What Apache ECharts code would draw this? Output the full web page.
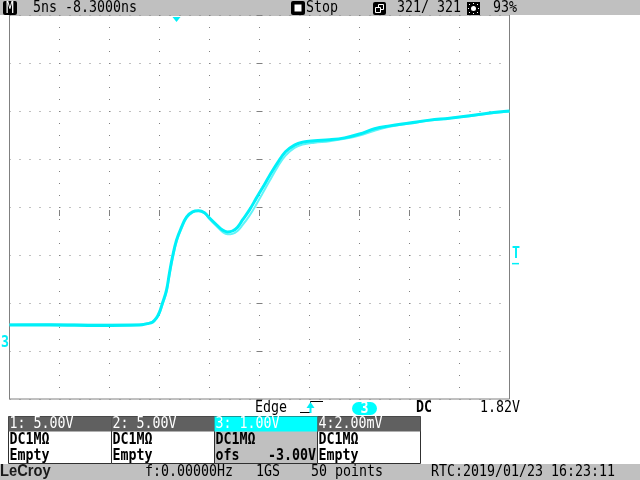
<!DOCTYPE html>
<html><head><meta charset="utf-8">
<script src="https://cdn.jsdelivr.net/npm/echarts@6/dist/echarts.min.js"></script>
<style>html,body{margin:0;padding:0;background:#fff}#c{width:640px;height:480px}</style>
</head><body><div id="c"></div>
<script>
// time from left edge of screen (ns), 5 ns/div, 10 divisions
const timeNs = [0,4,9,13,13.8,14.3,14.7,15,15.3,15.7,16,16.3,16.7,17.2,17.7,18.3,18.9,19.5,20,20.7,21.3,21.8,22.3,22.8,23.3,24,24.7,25.3,26,26.8,27.6,28.5,29.3,30.5,32,33.5,35,36.5,38,40,42,44,46,48,50];
// channel 3 volts, two persisted sweeps
const sweepA = [0.54,0.54,0.53,0.54,0.57,0.60,0.69,0.81,1.00,1.27,1.63,1.96,2.31,2.58,2.79,2.90,2.92,2.88,2.77,2.63,2.52,2.48,2.50,2.58,2.73,2.94,3.19,3.40,3.65,3.92,4.15,4.29,4.35,4.38,4.40,4.44,4.52,4.63,4.69,4.75,4.81,4.85,4.90,4.96,5.00];
const sweepB = [0.55,0.56,0.55,0.55,0.58,0.61,0.68,0.79,0.97,1.23,1.58,1.92,2.27,2.55,2.77,2.89,2.92,2.87,2.75,2.60,2.48,2.43,2.44,2.50,2.62,2.82,3.06,3.28,3.54,3.83,4.07,4.23,4.30,4.34,4.37,4.42,4.49,4.59,4.67,4.74,4.80,4.85,4.89,4.95,4.99];
const timePerDiv = 5, delayNs = -8.3, voltsPerDiv = 1, offsetV = -3, trigLevel = 1.82;
const headerTimebase = '5ns -8.3000ns';
const headerStop = 'Stop';
const headerSweeps = '321/ 321';
const headerBright = '93%';
const chanHeaders = ['1: 5.00V','2: 5.00V','3: 1.00V','4:2.00mV'];
const chanRow1 = ['DC1MΩ','DC1MΩ','DC1MΩ','DC1MΩ'];
const chanRow2 = ['Empty','Empty','ofs','Empty'];
const footer = {freq:'f:0.00000Hz', rate:'1GS', pts:'50 points', rtc:'RTC:2019/01/23 16:23:11'};

const FONT = '"DejaVu Sans Mono"';
const CY = '#00f0f8';
const xMin = 0, xMax = 10*timePerDiv;
const yMin = -offsetV - 4*voltsPerDiv, yMax = -offsetV + 4*voltsPerDiv;
const G = {left: 9.5, top: 15, width: 500, height: 384};

function txt(x, y, s, opt) {
  opt = opt || {};
  return {type:'text', x:x, y:y, scaleY: opt.sy || 1.25, z: 100,
    style:{text:s, x:0, y:0, fill: opt.fill || '#000', align: opt.align || 'left', verticalAlign:'middle',
      font: (opt.bold ? 'bold ' : '') + (opt.size || 13.3) + 'px ' + FONT}};
}

const chart = echarts.init(document.getElementById('c'), null, {renderer:'canvas'});
const pairsA = timeNs.map((t,i)=>[t, sweepA[i]]);
const pairsB = timeNs.map((t,i)=>[t, sweepB[i]]);
const axisCommon = {type:'value', axisLabel:{show:false}, axisLine:{show:false}};
chart.setOption({
  animation:false,
  backgroundColor:'#fff',
  grid:{left:G.left, top:G.top, width:G.width, height:G.height, show:true, borderColor:'#808080', borderWidth:1, backgroundColor:'transparent'},
  xAxis:[
    Object.assign({}, axisCommon, {min:xMin, max:xMax, interval:timePerDiv, axisTick:{show:false},
      splitLine:{show:true, lineStyle:{color:'#808080', width:1, type:[1,11]}}}),
    Object.assign({}, axisCommon, {min:xMin, max:xMax, interval:timePerDiv, position:'bottom', offset:-195,
      axisTick:{show:true, length:6, inside:false, lineStyle:{color:'#808080'}}, splitLine:{show:false}})
  ],
  yAxis:[
    Object.assign({}, axisCommon, {min:yMin, max:yMax, interval:voltsPerDiv, axisTick:{show:false},
      splitLine:{show:true, lineStyle:{color:'#808080', width:1, type:[1,9]}}}),
    Object.assign({}, axisCommon, {min:yMin, max:yMax, interval:voltsPerDiv, position:'left', offset:-253,
      axisTick:{show:true, length:6, inside:false, lineStyle:{color:'#808080'}}, splitLine:{show:false}})
  ],
  series:[
    {type:'line', data:pairsB, smooth:0.4, symbol:'none', lineStyle:{color:'#60f4f8', width:2}, z:3},
    {type:'line', data:pairsA, smooth:0.4, symbol:'none', lineStyle:{color:CY, width:3}, z:4}
  ]
});

const trigX = chart.convertToPixel({xAxisIndex:0}, 25 + delayNs);
const trigY = chart.convertToPixel({yAxisIndex:0}, trigLevel);
const gndY = chart.convertToPixel({yAxisIndex:0}, 0);

const g = [];
// header bar
g.push({type:'rect', shape:{x:0,y:0,width:640,height:15}, style:{fill:'#c0c0c0'}, z:50});
g.push({type:'rect', shape:{x:3,y:1,width:14,height:14,r:2}, style:{fill:'#000'}, z:60});
g.push(txt(10, 8.5, 'M', {fill:'#fff', align:'center', size:13}));
g.push(txt(33, 8, headerTimebase));
g.push({type:'rect', shape:{x:291,y:1,width:14,height:14,r:2}, style:{fill:'#000'}, z:60});
g.push({type:'rect', shape:{x:294.5,y:4.5,width:7,height:7}, style:{fill:'#fff'}, z:61});
g.push(txt(306, 8, headerStop));
g.push({type:'rect', shape:{x:373,y:2,width:13,height:13,r:2}, style:{fill:'#000'}, z:60});
g.push({type:'rect', shape:{x:378.5,y:4.5,width:5,height:5}, style:{fill:'none', stroke:'#fff', lineWidth:1}, z:61});
g.push({type:'rect', shape:{x:375.5,y:7.5,width:5,height:5}, style:{fill:'#000', stroke:'#fff', lineWidth:1}, z:62});
g.push(txt(397, 8, headerSweeps));
g.push({type:'rect', shape:{x:467,y:2,width:13,height:13}, style:{fill:'#000'}, z:60});
g.push({type:'circle', shape:{cx:473.5,cy:8.5,r:2.5}, style:{fill:'#fff'}, z:61});
[[469.5,4.5],[477.5,4.5],[469.5,12.5],[477.5,12.5],[473.5,3.5],[473.5,13.5],[468.5,8.5],[478.5,8.5]].forEach(p=>{
  g.push({type:'rect', shape:{x:p[0]-0.5,y:p[1]-0.5,width:1,height:1}, style:{fill:'#fff'}, z:61});
});
g.push(txt(493, 8, headerBright));
// trigger position marker
g.push({type:'polygon', shape:{points:[[trigX-4,17],[trigX+4,17],[trigX,22]]}, style:{fill:CY}, z:70});
// ground marker and trigger level marker
g.push(txt(1, gndY-8, '3', {fill:CY, bold:true}));
g.push(txt(512, trigY-10, 'T', {fill:CY, bold:true}));
g.push({type:'line', shape:{x1:512,y1:trigY,x2:519,y2:trigY}, style:{stroke:CY, lineWidth:1.5}, z:70});
// edge row
g.push(txt(255, 408, 'Edge'));
g.push({type:'polyline', shape:{points:[[300,412.5],[310.5,412.5],[310.5,401.5],[323,401.5]]}, style:{stroke:'#000', lineWidth:1, fill:'none'}, z:60});
g.push({type:'line', shape:{x1:310.5,y1:404,x2:310.5,y2:413}, style:{stroke:CY, lineWidth:2}, z:61});
g.push({type:'polygon', shape:{points:[[306.5,408],[314.5,408],[310.5,402]]}, style:{fill:CY}, z:61});
g.push({type:'rect', shape:{x:352,y:402,width:25,height:13,r:6.5}, style:{fill:'#00ffff'}, z:60});
g.push(txt(364.5, 408.5, '3', {fill:'#fff', align:'center', bold:true}));
g.push(txt(416, 408, 'DC', {bold:true}));
g.push(txt(480, 408, '1.82V'));
// channel boxes
const bx = [8,111,214,317,420];
for (let i=0;i<4;i++) {
  const x0 = bx[i], w = bx[i+1]-bx[i];
  const isC3 = i===2;
  g.push({type:'rect', shape:{x:x0+0.5,y:416.5,width:w,height:47}, style:{fill: isC3 ? '#c0c0c0' : '#fff', stroke:'#303030', lineWidth:1}, z:55});
  g.push({type:'rect', shape:{x:x0+0.5,y:416.5,width:w,height:15}, style:{fill: isC3 ? '#00ffff' : '#606060'}, z:56});
  g.push(txt(x0+1.5, 424, chanHeaders[i], {fill:'#fff'}));
  g.push(txt(x0+1.5, 440, chanRow1[i], {bold:true}));
  g.push(txt(x0+1.5, 456, chanRow2[i], {bold:true}));
}
g.push(txt(316, 456, '-3.00V', {bold:true, align:'right'}));
// footer
g.push({type:'rect', shape:{x:0,y:464,width:640,height:16}, style:{fill:'#c0c0c0'}, z:50});
g.push({type:'text', x:0, y:472, scaleX:0.92, z:100, style:{text:'LeCroy', x:0, y:0, verticalAlign:'middle', fill:'#1a1a1a', font:'bold 16px "Liberation Sans"'}});
g.push(txt(145, 472, footer.freq));
g.push(txt(256, 472, footer.rate));
g.push(txt(311, 472, footer.pts));
g.push(txt(431, 472, footer.rtc));
chart.setOption({graphic:{elements:g}});
</script></body></html>
